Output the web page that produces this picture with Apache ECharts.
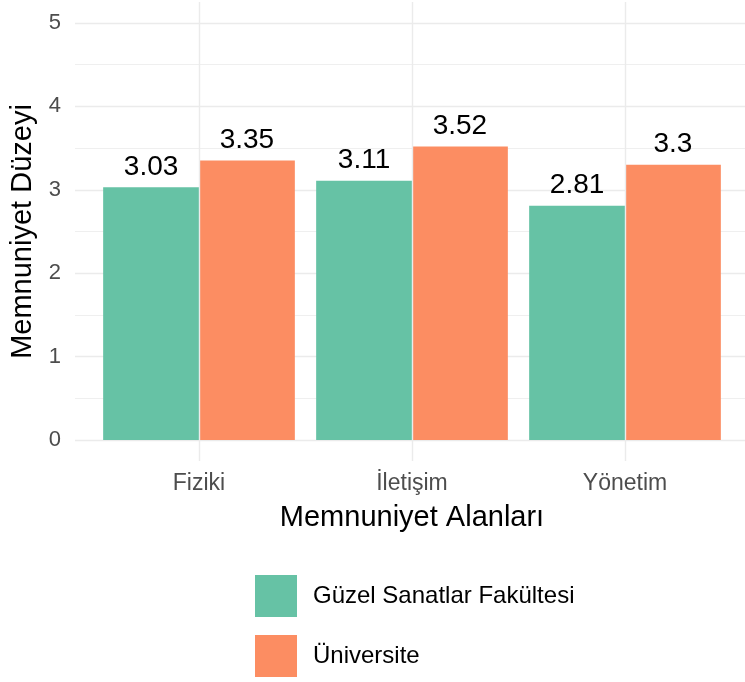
<!DOCTYPE html>
<html>
<head>
<meta charset="utf-8">
<script src="https://cdn.jsdelivr.net/npm/echarts@6/dist/echarts.min.js"></script>
<style>html,body{margin:0;padding:0;background:#fff;}#c{width:745px;height:682px;}</style>
</head>
<body>
<div id="c"></div>
<script>
const categories = ['Fiziki', 'İletişim', 'Yönetim'];
const seriesNames = ['Güzel Sanatlar Fakültesi', 'Üniversite'];
const gsfValues = [3.03, 3.11, 2.81];
const uniValues = [3.35, 3.52, 3.30];
const yTicks = [0, 1, 2, 3, 4, 5];
const seriesColors = ['#66C2A5', '#FC8D62'];

const FONT = '"Liberation Sans", Arial, sans-serif';
const chart = echarts.init(document.getElementById('c'), null, {renderer: 'canvas'});
chart.setOption({
  animation: false,
  backgroundColor: '#ffffff',
  textStyle: {fontFamily: FONT},
  grid: [
    // bars
    {left: 92.5, top: 23, width: 639, height: 417, containLabel: false},
    // horizontal grid + y labels (full panel width)
    {left: 72, top: 23, width: 681, height: 417, containLabel: false},
    // vertical grid lines (full panel height)
    {left: 92.5, top: 2, width: 639, height: 459, containLabel: false}
  ],
  legend: [
    {
      left: 255, top: 575, padding: 0, itemWidth: 42, itemHeight: 42, icon: 'rect',
      data: [seriesNames[0]],
      textStyle: {fontSize: 24, color: '#000', fontFamily: FONT, padding: [0, 0, 0, 11]}
    },
    {
      left: 255, top: 635, padding: 0, itemWidth: 42, itemHeight: 42, icon: 'rect',
      data: [seriesNames[1]],
      textStyle: {fontSize: 24, color: '#000', fontFamily: FONT, padding: [0, 0, 0, 11]}
    }
  ],
  xAxis: [
    {
      type: 'category', data: categories, gridIndex: 0,
      axisLine: {show: false}, axisTick: {show: false}, splitLine: {show: false},
      axisLabel: {fontSize: 23, color: '#4D4D4D', margin: 32, fontFamily: FONT},
      name: 'Memnuniyet Alanları', nameLocation: 'middle', nameGap: 63,
      nameTextStyle: {fontSize: 29, color: '#000', fontFamily: FONT}
    },
    {type: 'category', data: categories, gridIndex: 1, show: false},
    {type: 'category', data: categories, gridIndex: 2, show: false}
  ],
  yAxis: [
    {type: 'value', gridIndex: 0, min: yTicks[0], max: yTicks[yTicks.length - 1], show: false},
    {
      type: 'value', gridIndex: 1, min: yTicks[0], max: yTicks[yTicks.length - 1], interval: 1,
      axisLine: {show: false}, axisTick: {show: false},
      axisLabel: {fontSize: 22, color: '#4D4D4D', margin: 14, fontFamily: FONT},
      splitLine: {show: true, lineStyle: {color: '#EBEBEB', width: 1.4}},
      minorTick: {show: false, splitNumber: 2},
      minorSplitLine: {show: true, lineStyle: {color: '#EBEBEB', width: 0.8}},
      name: 'Memnuniyet Düzeyi', nameLocation: 'middle', nameGap: 38,
      nameTextStyle: {fontSize: 29, color: '#000', fontFamily: FONT}
    },
    {type: 'value', gridIndex: 2, min: 0, max: 1, show: false}
  ],
  series: [
    {
      type: 'line', xAxisIndex: 2, yAxisIndex: 2, data: [null, null, null],
      showSymbol: false, silent: true, z: 1, legendHoverLink: false,
      markLine: {
        silent: true, symbol: ['none', 'none'], label: {show: false},
        lineStyle: {color: '#EBEBEB', width: 1.4, type: 'solid'},
        data: categories.map(c => ({xAxis: c}))
      }
    },
    {
      name: seriesNames[0], type: 'bar', data: gsfValues, z: 3,
      xAxisIndex: 0, yAxisIndex: 0,
      itemStyle: {color: seriesColors[0]},
      barGap: '0%', barCategoryGap: '10%',
      label: {show: true, position: 'top', distance: 6, fontSize: 28, color: '#000', fontFamily: FONT}
    },
    {
      name: seriesNames[1], type: 'bar', data: uniValues, z: 3,
      xAxisIndex: 0, yAxisIndex: 0,
      itemStyle: {color: seriesColors[1]},
      barGap: '0%', barCategoryGap: '10%',
      label: {show: true, position: 'top', distance: 6, fontSize: 28, color: '#000', fontFamily: FONT}
    }
  ]
});
</script>
</body>
</html>
